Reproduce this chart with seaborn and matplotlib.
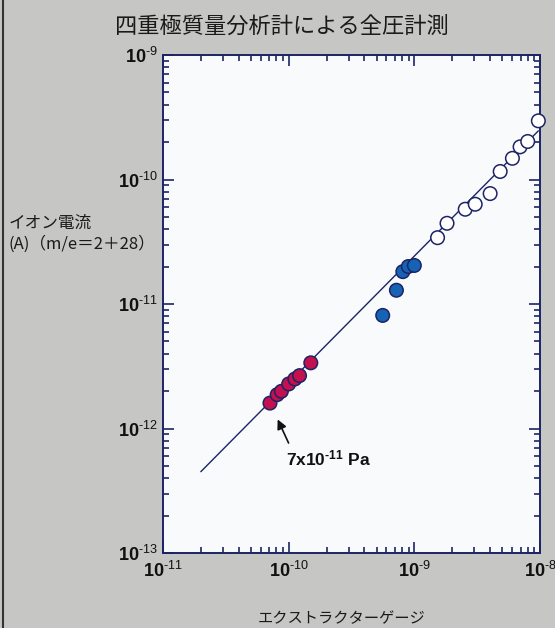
import pandas as pd
import matplotlib
matplotlib.use('Agg')
import matplotlib.pyplot as plt
import seaborn as sns
from matplotlib.lines import Line2D

# values (x: extractor gauge [Pa], y: ion current [A])
red_x = [7.1e-11, 8.1e-11, 8.75e-11, 1.0e-10, 1.12e-10, 1.22e-10, 1.5e-10]
red_y = [1.6e-12, 1.87e-12, 1.99e-12, 2.28e-12, 2.5e-12, 2.66e-12, 3.37e-12]
blue_x = [5.6e-10, 7.2e-10, 8.1e-10, 8.95e-10, 1.0e-9]
blue_y = [8.1e-12, 1.29e-11, 1.82e-11, 2.0e-11, 2.04e-11]
open_x = [1.53e-9, 1.82e-9, 2.54e-9, 3.05e-9, 4.01e-9, 4.82e-9, 6.03e-9, 6.94e-9, 7.98e-9, 9.7e-9]
open_y = [3.41e-11, 4.45e-11, 5.77e-11, 6.33e-11, 7.71e-11, 1.16e-10, 1.48e-10, 1.83e-10, 2.02e-10, 2.96e-10]
fit_x = [2.0e-11, 9.7e-9]
fit_y = [4.5e-13, 2.46e-10]

x_decades = [-11, -10, -9, -8]
y_decades = [-13, -12, -11, -10, -9]

title = '四重極質量分析計による全圧計測'
ylabel = 'イオン電流\n(A)（m/e＝2＋28）'
xlabel = 'エクストラクターゲージ'
note = '7x10$^{\u2010 11}$ Pa'

sns.set_style('white')
plt.rcParams['font.family'] = ['Liberation Sans', 'Noto Sans CJK JP', 'DejaVu Sans']
plt.rcParams['mathtext.fontset'] = 'custom'
plt.rcParams['mathtext.rm'] = 'Liberation Sans'
plt.rcParams['mathtext.bf'] = 'Liberation Sans:bold'
plt.rcParams['mathtext.default'] = 'regular'

navy = '#1c2466'
bg = '#c6c6c4'

df = pd.DataFrame({
    'x': red_x + blue_x + open_x,
    'y': red_y + blue_y + open_y,
    'group': ['red'] * len(red_x) + ['blue'] * len(blue_x) + ['open'] * len(open_x),
})
fit = pd.DataFrame({'x': fit_x, 'y': fit_y})


def dec_label(e):
    # hyphen instead of the mathtext minus, like the printed original
    return r'$\mathbf{10}^{' + '\u2010' + str(abs(e)) + '}$'


fig = plt.figure(figsize=(5.55, 6.28), dpi=100, facecolor=bg)
ax = fig.add_axes([0.2937, 0.1194, 0.6793, 0.7930])
ax.set_facecolor('#f9fafc')

sns.lineplot(data=fit, x='x', y='y', color=navy, lw=1.0, ax=ax, zorder=2)
sns.scatterplot(data=df, x='x', y='y', hue='group',
                palette={'red': '#c4104e', 'blue': '#1663b4', 'open': '#ffffff'},
                s=95, edgecolor=navy, linewidth=1.1, legend=False, ax=ax,
                zorder=3, clip_on=False)

ax.set_xscale('log')
ax.set_yscale('log')
ax.set_xlim(1e-11, 1e-8)
ax.set_ylim(1e-13, 1e-9)

ax.set_xticks([10.0 ** e for e in x_decades])
ax.set_xticklabels([dec_label(e) for e in x_decades])
ax.set_yticks([10.0 ** e for e in y_decades])
ax.set_yticklabels([dec_label(e) for e in y_decades])

ax.tick_params(which='both', direction='in', top=True, right=True,
               bottom=True, left=True, color=navy, width=1.2)
ax.tick_params(which='major', length=8, labelsize=13, labelcolor='#111111')
ax.tick_params(which='minor', length=4)
ax.tick_params(axis='x', pad=6)
ax.tick_params(axis='y', pad=4)
for sp in ax.spines.values():
    sp.set_color(navy)
    sp.set_linewidth(1.4)

ax.set_xlabel('')
ax.set_ylabel('')

# annotation arrow and value
ax.annotate('', xy=(8.0e-11, 1.24e-12), xytext=(1.02e-10, 7.3e-13),
            arrowprops=dict(arrowstyle='-|>', color='#111111', lw=1.2,
                            mutation_scale=14))
ax.text(9.6e-11, 5.8e-13, note, fontsize=12.5, fontweight='bold',
        color='#111111', va='center', ha='left')

fig.text(0.508, 0.958, title, fontsize=16, ha='center', va='center',
         family=['Noto Sans CJK JP', 'DejaVu Sans'], color='#1a1a1a')
fig.text(0.016, 0.628, ylabel, fontsize=12, ha='left', va='center',
         linespacing=1.25, family=['Noto Sans CJK JP', 'DejaVu Sans'],
         color='#1a1a1a')
fig.text(0.615, 0.0143, xlabel, fontsize=11, ha='center', va='center',
         family=['Noto Sans CJK JP', 'DejaVu Sans'], color='#1a1a1a')

# dark edge along the left of the scan
fig.add_artist(Line2D([0.005, 0.005], [0, 1], transform=fig.transFigure,
                      color='#333333', lw=1.5))

fig.savefig('out.png', dpi=100, facecolor=bg)
